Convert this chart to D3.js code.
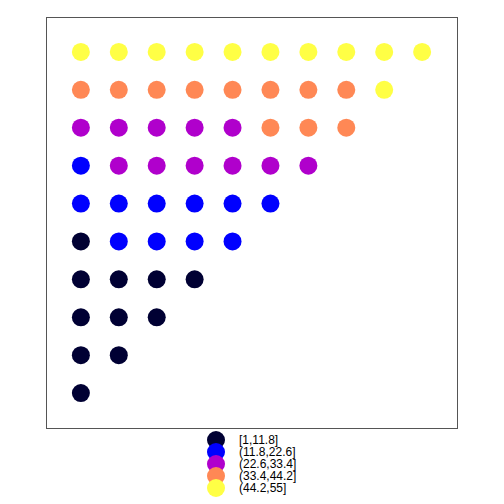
<!DOCTYPE html>
<html>
<head>
<meta charset="utf-8">
<script src="https://cdn.jsdelivr.net/npm/d3@7"></script>
<style>
  body { margin: 0; background: #fff; }
  svg { display: block; }
</style>
</head>
<body>
<svg width="504" height="504"></svg>
<script>
// position in the lattice (column, row counted from the bottom) and value of each point
const colIdx = [1,
  1, 2,
  1, 2, 3,
  1, 2, 3, 4,
  1, 2, 3, 4, 5,
  1, 2, 3, 4, 5, 6,
  1, 2, 3, 4, 5, 6, 7,
  1, 2, 3, 4, 5, 6, 7, 8,
  1, 2, 3, 4, 5, 6, 7, 8, 9,
  1, 2, 3, 4, 5, 6, 7, 8, 9, 10];
const rowIdx = [1,
  2, 2,
  3, 3, 3,
  4, 4, 4, 4,
  5, 5, 5, 5, 5,
  6, 6, 6, 6, 6, 6,
  7, 7, 7, 7, 7, 7, 7,
  8, 8, 8, 8, 8, 8, 8, 8,
  9, 9, 9, 9, 9, 9, 9, 9, 9,
  10, 10, 10, 10, 10, 10, 10, 10, 10, 10];
const values = [1,
  2, 3,
  4, 5, 6,
  7, 8, 9, 10,
  11, 12, 13, 14, 15,
  16, 17, 18, 19, 20, 21,
  22, 23, 24, 25, 26, 27, 28,
  29, 30, 31, 32, 33, 34, 35, 36,
  37, 38, 39, 40, 41, 42, 43, 44, 45,
  46, 47, 48, 49, 50, 51, 52, 53, 54, 55];

// bins and their labels
const breaks = [11.8, 22.6, 33.4, 44.2];
const binLabels = ["[1,11.8]", "(11.8,22.6]", "(22.6,33.4]", "(33.4,44.2]", "(44.2,55]"];
const binColors = ["#000033", "#0000FF", "#B000CC", "#FF8855", "#FFFF45"];

const svg = d3.select("svg");
const panel = {left: 46, top: 17, right: 457, bottom: 428};

const x = d3.scaleLinear().domain([0.08, 10.92]).range([panel.left, panel.right]);
const y = d3.scaleLinear().domain([0.08, 10.92]).range([panel.bottom, panel.top]);
const color = d3.scaleThreshold().domain(breaks).range(binColors);

svg.append("rect")
  .attr("x", panel.left + 0.5)
  .attr("y", panel.top + 0.5)
  .attr("width", panel.right - panel.left)
  .attr("height", panel.bottom - panel.top)
  .attr("fill", "none")
  .attr("stroke", "#555")
  .attr("stroke-width", 1);

const data = values.map((v, i) => ({col: colIdx[i], row: rowIdx[i], v: v}));

svg.append("g")
  .selectAll("circle")
  .data(data)
  .join("circle")
  .attr("cx", d => x(d.col))
  .attr("cy", d => y(d.row))
  .attr("r", 9)
  .attr("fill", d => color(d.v));

// legend under the panel
const legend = svg.append("g").attr("transform", "translate(216,440)");
const item = legend.selectAll("g")
  .data(binLabels)
  .join("g")
  .attr("transform", (d, i) => `translate(0,${i * 12})`);

item.append("circle")
  .attr("r", 9)
  .attr("fill", (d, i) => binColors[i]);

item.append("text")
  .attr("x", 23)
  .attr("dy", "0.35em")
  .attr("font-family", "Liberation Sans, Arial, sans-serif")
  .attr("font-size", 12)
  .attr("fill", "#000")
  .text(d => d);
</script>
</body>
</html>
